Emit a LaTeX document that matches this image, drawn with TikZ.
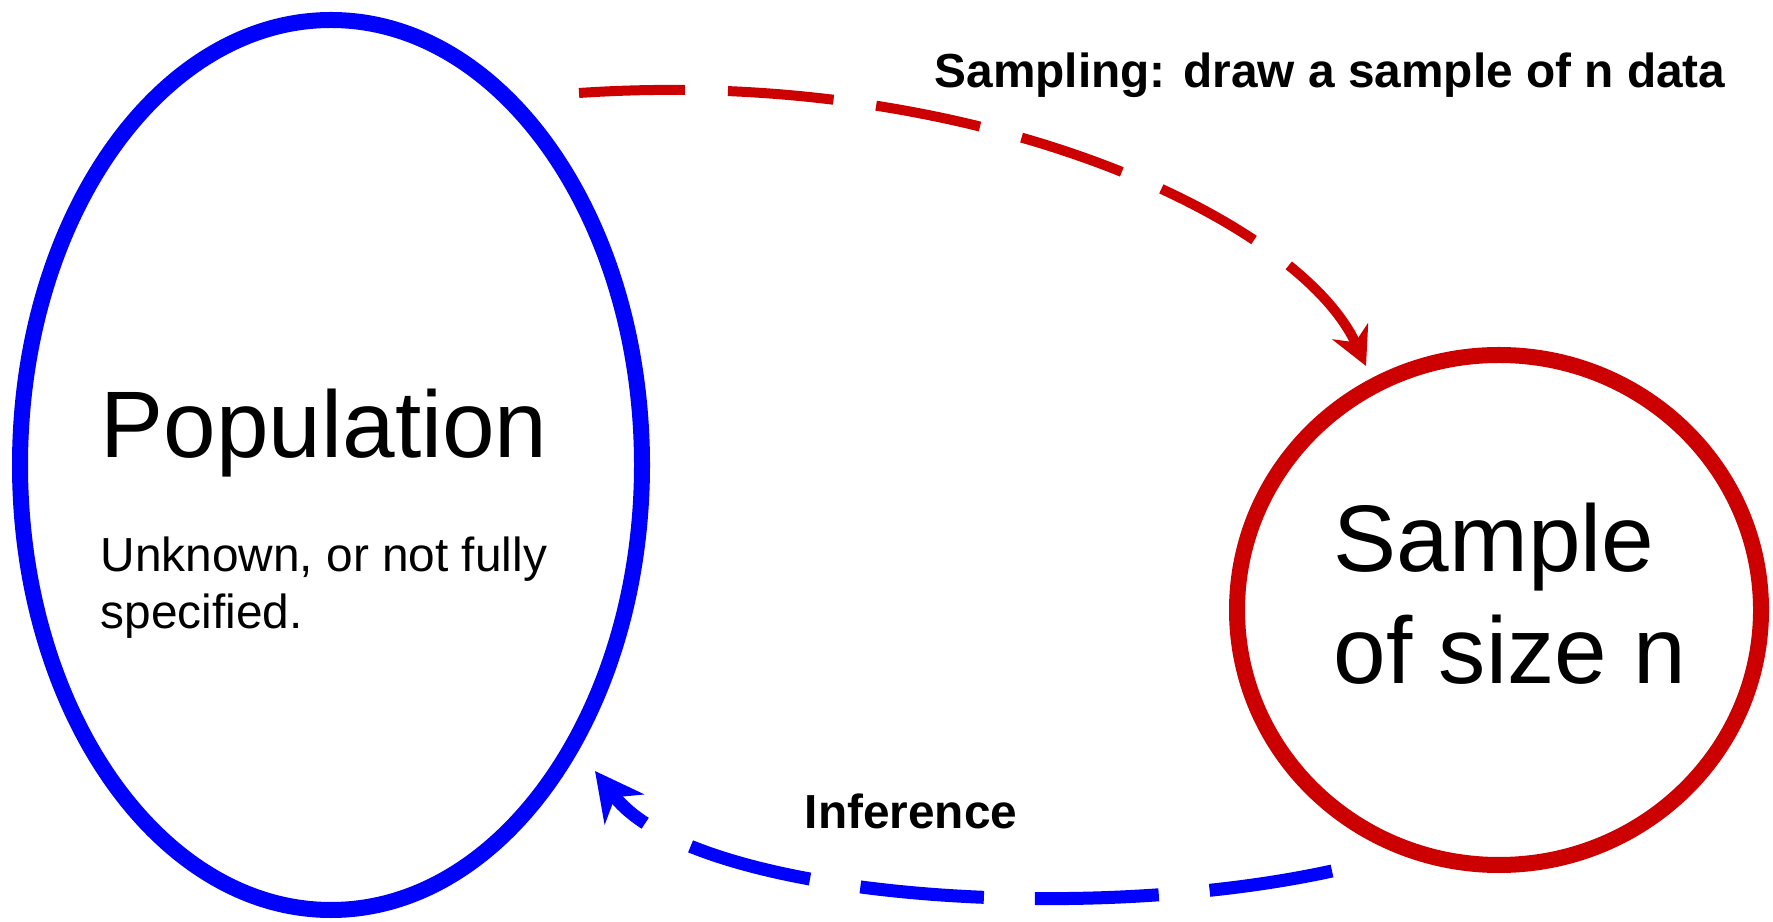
\documentclass[tikz,border=0pt]{standalone}
\usepackage{fontspec}
\setmainfont{Liberation Sans}
\usepackage{tikz}
\usetikzlibrary{arrows.meta,calc,positioning,shapes.geometric}
\usepackage{xcolor}
\definecolor{popblue}{RGB}{0,0,255}
\definecolor{smpred}{RGB}{204,0,0}

\begin{document}
\begin{tikzpicture}[
  bigtext/.style={font=\fontsize{26.9}{32.1}\selectfont, inner sep=0, align=left},
  smalltext/.style={font=\fontsize{13.6}{16.5}\selectfont, inner sep=0, align=left},
  arrowtext/.style={font=\fontsize{13.6}{16.5}\selectfont\bfseries, inner sep=0},
  blob/.style={ellipse, draw, line width=0.16cm, inner sep=0}]
\useasboundingbox (0,0) rectangle (17.73,9.21);

% Popolazione e campione
\node[blob, draw=popblue, minimum width=6.22cm, minimum height=8.9cm] (pop) at (3.31,4.56) {};
\node[blob, draw=smpred, minimum width=5.24cm, minimum height=5.10cm] (smp) at (14.99,3.11) {};
\node[bigtext, anchor=base west] (poptitle) at ([shift={(-2.31,0.07)}]pop.center) {Population};
\node[smalltext, anchor=base west] (popnote) at ([shift={(-2.31,-1.64)}]pop.center) {Unknown, or not fully\\specified.};
\node[bigtext, anchor=base west] (smptitle) at ([shift={(-1.66,-0.74)}]smp.center) {Sample\\of size n};

\coordinate (sampfrom) at ([shift={(2.48,3.72)}]pop.center);
\coordinate (sampto) at ([shift={(-1.33,2.44)}]smp.center);
\coordinate (inffrom) at ([shift={(-1.67,-2.61)}]smp.center);
\coordinate (infto) at ([shift={(2.64,-3.06)}]pop.center);

\draw[smpred, line width=0.10cm, dash pattern=on 1.06cm off 0.43cm,
  -{Stealth[length=0.38cm, width=0.39cm, inset=0.12cm]}]
  (sampfrom) .. controls (9.8,8.55) and (13.0,7.0) .. (sampto);
\draw[popblue, line width=0.13cm, dash pattern=on 1.24cm off 0.51cm,
  -{Stealth[length=0.48cm, width=0.49cm, inset=0.15cm]}]
  (inffrom) .. controls (10.8,-0.05) and (6.92,0.23) .. (infto);

\node[arrowtext, anchor=base west] (samplabel) at (9.34,8.33) {Sampling: draw a sample of n data};
\node[arrowtext, anchor=base west] (inflabel) at (8.04,0.93) {Inference};

\end{tikzpicture}
\end{document}
